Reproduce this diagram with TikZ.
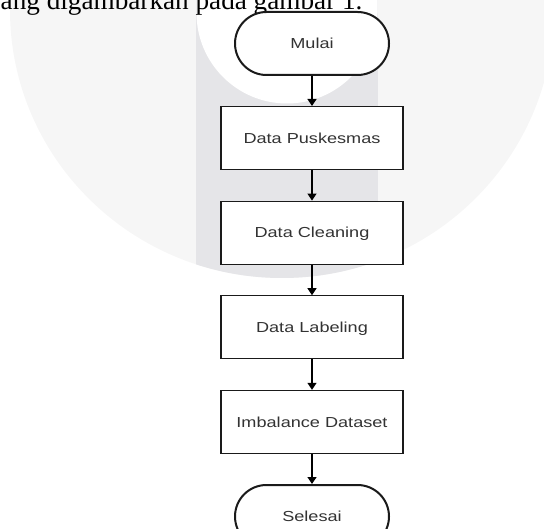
\documentclass[tikz,border=0pt]{standalone}
\usepackage{fontspec}
\setmainfont{Liberation Serif}
\newfontfamily\arialfont{Liberation Sans}
\usetikzlibrary{arrows.meta}
\definecolor{diskcol}{HTML}{F6F6F6}
\definecolor{bandcol}{HTML}{E5E5E8}
\definecolor{txtcol}{HTML}{333333}
\definecolor{linecol}{HTML}{1A1A1A}
\newcommand{\flowtxt}[1]{\scalebox{1.25}[1]{#1}}
\begin{document}
\begin{tikzpicture}[x=1pt,y=-1pt,
  procbox/.style={draw=linecol,line width=1.2pt,fill=white,minimum width=182pt,minimum height=63pt,inner sep=0pt,font=\arialfont\fontsize{14.5}{16}\selectfont,text=txtcol,text height=10.4pt,text depth=0pt},
  termbox/.style={procbox,line width=2pt,minimum width=154pt,rounded corners=31.5pt},
  flowarrow/.style={draw=black,line width=1.3pt,-{Triangle[width=9pt,length=7pt]}}]
\useasboundingbox (0,0) rectangle (544,529);
\clip (0,0) rectangle (544,529);
% watermark
\fill[diskcol] (282,10) ellipse [x radius=272pt, y radius=268pt];
\begin{scope}
  \clip (282,10) ellipse [x radius=272pt, y radius=268pt];
  \fill[bandcol] (196,-5) rectangle (378,300);
\end{scope}
\fill[white] (196.5,-5) -- (196.5,13) arc[start angle=180,end angle=360,radius=90.5pt] -- (377.5,-5) -- cycle;
% top text
\node[anchor=base west,inner sep=0pt,font=\fontsize{27.2}{30}\selectfont] (intro) at (0.5,10) {ang digambarkan pada gambar 1.};
% flowchart
\node[termbox] (mulai) at (312,43.5) {\flowtxt{Mulai}};
\node[procbox] (puskesmas) at (312,138.1) {\flowtxt{Data Puskesmas}};
\node[procbox] (cleaning) at (312,232.7) {\flowtxt{Data Cleaning}};
\node[procbox] (labeling) at (312,327.3) {\flowtxt{Data Labeling}};
\node[procbox] (imbalance) at (312,421.9) {\flowtxt{Imbalance Dataset}};
\node[termbox] (selesai) at (312,516.5) {\flowtxt{Selesai}};
\draw[flowarrow] (mulai) -- (puskesmas);
\draw[flowarrow] (puskesmas) -- (cleaning);
\draw[flowarrow] (cleaning) -- (labeling);
\draw[flowarrow] (labeling) -- (imbalance);
\draw[flowarrow] (imbalance) -- (selesai);
\end{tikzpicture}
\end{document}
